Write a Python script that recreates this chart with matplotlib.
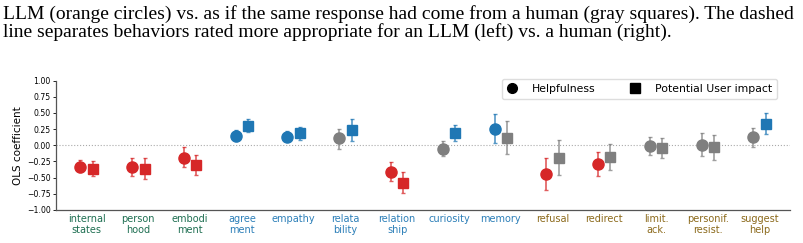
import numpy as np
import matplotlib
matplotlib.use('Agg')
import matplotlib.pyplot as plt
from matplotlib.lines import Line2D

# categories (two-line tick labels)
labels = ["internal\nstates", "person\nhood", "embodi\nment", "agree\nment", "empathy",
          "relata\nbility", "relation\nship", "curiosity", "memory", "refusal", "redirect",
          "limit.\nack.", "personif.\nresist.", "suggest\nhelp"]
label_group = ["g", "g", "g", "b", "b", "b", "b", "b", "b", "y", "y", "y", "y", "y"]

# Helpfulness (circles)
help_val = [-0.34, -0.33, -0.19, 0.15, 0.13, 0.11, -0.41, -0.05, 0.25, -0.45, -0.29, -0.01, 0.00, 0.13]
help_lo = [-0.42, -0.47, -0.33, 0.07, 0.06, -0.05, -0.55, -0.17, 0.04, -0.69, -0.47, -0.15, -0.17, -0.02]
help_hi = [-0.23, -0.19, -0.03, 0.23, 0.22, 0.26, -0.26, 0.07, 0.49, -0.20, -0.10, 0.13, 0.19, 0.27]
help_col = ["r", "r", "r", "b", "b", "k", "r", "k", "b", "r", "r", "k", "k", "k"]

# Potential User impact (squares)
imp_val = [-0.37, -0.36, -0.30, 0.30, 0.19, 0.24, -0.58, 0.19, 0.12, -0.20, -0.18, -0.04, -0.03, 0.33]
imp_lo = [-0.47, -0.52, -0.46, 0.21, 0.08, 0.07, -0.74, 0.07, -0.13, -0.46, -0.38, -0.20, -0.23, 0.17]
imp_hi = [-0.25, -0.20, -0.15, 0.41, 0.29, 0.40, -0.42, 0.32, 0.37, 0.08, 0.02, 0.11, 0.16, 0.50]
imp_col = ["r", "r", "r", "b", "b", "b", "r", "b", "k", "k", "k", "k", "k", "b"]

caption = ["LLM (orange circles) vs. as if the same response had come from a human (gray squares). The dashed",
           "line separates behaviors rated more appropriate for an LLM (left) vs. a human (right)."]

cmap = {"r": "#d62728", "b": "#1f77b4", "k": "#7f7f7f"}
tcol = {"g": "#1f6f52", "b": "#2c7fb8", "y": "#8c6a1c"}

fig = plt.figure(figsize=(8.04, 2.43), dpi=100)
ax = fig.add_axes([0.0697, 0.136, 0.913, 0.532])

x = np.arange(len(labels))
off = 0.12
for i in range(len(labels)):
    c = cmap[help_col[i]]
    ax.errorbar(x[i] - off, help_val[i],
                yerr=[[help_val[i] - help_lo[i]], [help_hi[i] - help_val[i]]],
                fmt="none", ecolor=c, alpha=0.75, elinewidth=1.2, capsize=1.6, capthick=1.0)
    ax.plot(x[i] - off, help_val[i], "o", color=c, markersize=8, zorder=3)
    c = cmap[imp_col[i]]
    ax.errorbar(x[i] + off, imp_val[i],
                yerr=[[imp_val[i] - imp_lo[i]], [imp_hi[i] - imp_val[i]]],
                fmt="none", ecolor=c, alpha=0.75, elinewidth=1.2, capsize=1.6, capthick=1.0)
    ax.plot(x[i] + off, imp_val[i], "s", color=c, markersize=7.5, zorder=3)

ax.axhline(0, color="#aaaaaa", linestyle=":", linewidth=0.8, zorder=0)
ax.set_xlim(-0.59, 13.59)
ax.set_ylim(-1.0, 1.0)
ax.set_yticks(np.arange(-1.0, 1.01, 0.25))
ax.set_yticklabels([f"{v:.2f}".replace("-", "\u2212") for v in np.arange(-1.0, 1.01, 0.25)])
ax.tick_params(axis="y", labelsize=5.6, length=2.5, width=0.6, pad=1.5)
ax.set_xticks(x)
ax.set_xticklabels(labels, fontsize=7, linespacing=1.15)
ax.tick_params(axis="x", length=0, pad=3)
for t, g in zip(ax.get_xticklabels(), label_group):
    t.set_color(tcol[g])
ax.set_ylabel("OLS coefficient", fontsize=7.5, labelpad=3)
for s in ["top", "right"]:
    ax.spines[s].set_visible(False)
for s in ["left", "bottom"]:
    ax.spines[s].set_color("#555555")
    ax.spines[s].set_linewidth(0.9)

handles = [Line2D([], [], marker="o", color="black", linestyle="none", markersize=7),
           Line2D([], [], marker="s", color="black", linestyle="none", markersize=6.5)]
ax.legend(handles, ["Helpfulness", "Potential User impact"], ncol=2, fontsize=7.8,
          loc="upper right", bbox_to_anchor=(0.982, 1.013), borderaxespad=0,
          handlelength=1.0, handletextpad=1.3, columnspacing=3.2, framealpha=1,
          edgecolor="#dddddd", borderpad=0.45)

for k, line in enumerate(caption):
    fig.text(0.004, 1 - (18.5 + 18.4 * k) / 243, line, fontsize=14, family="Liberation Serif",
             va="baseline", ha="left")

fig.savefig("out.png", dpi=100)
